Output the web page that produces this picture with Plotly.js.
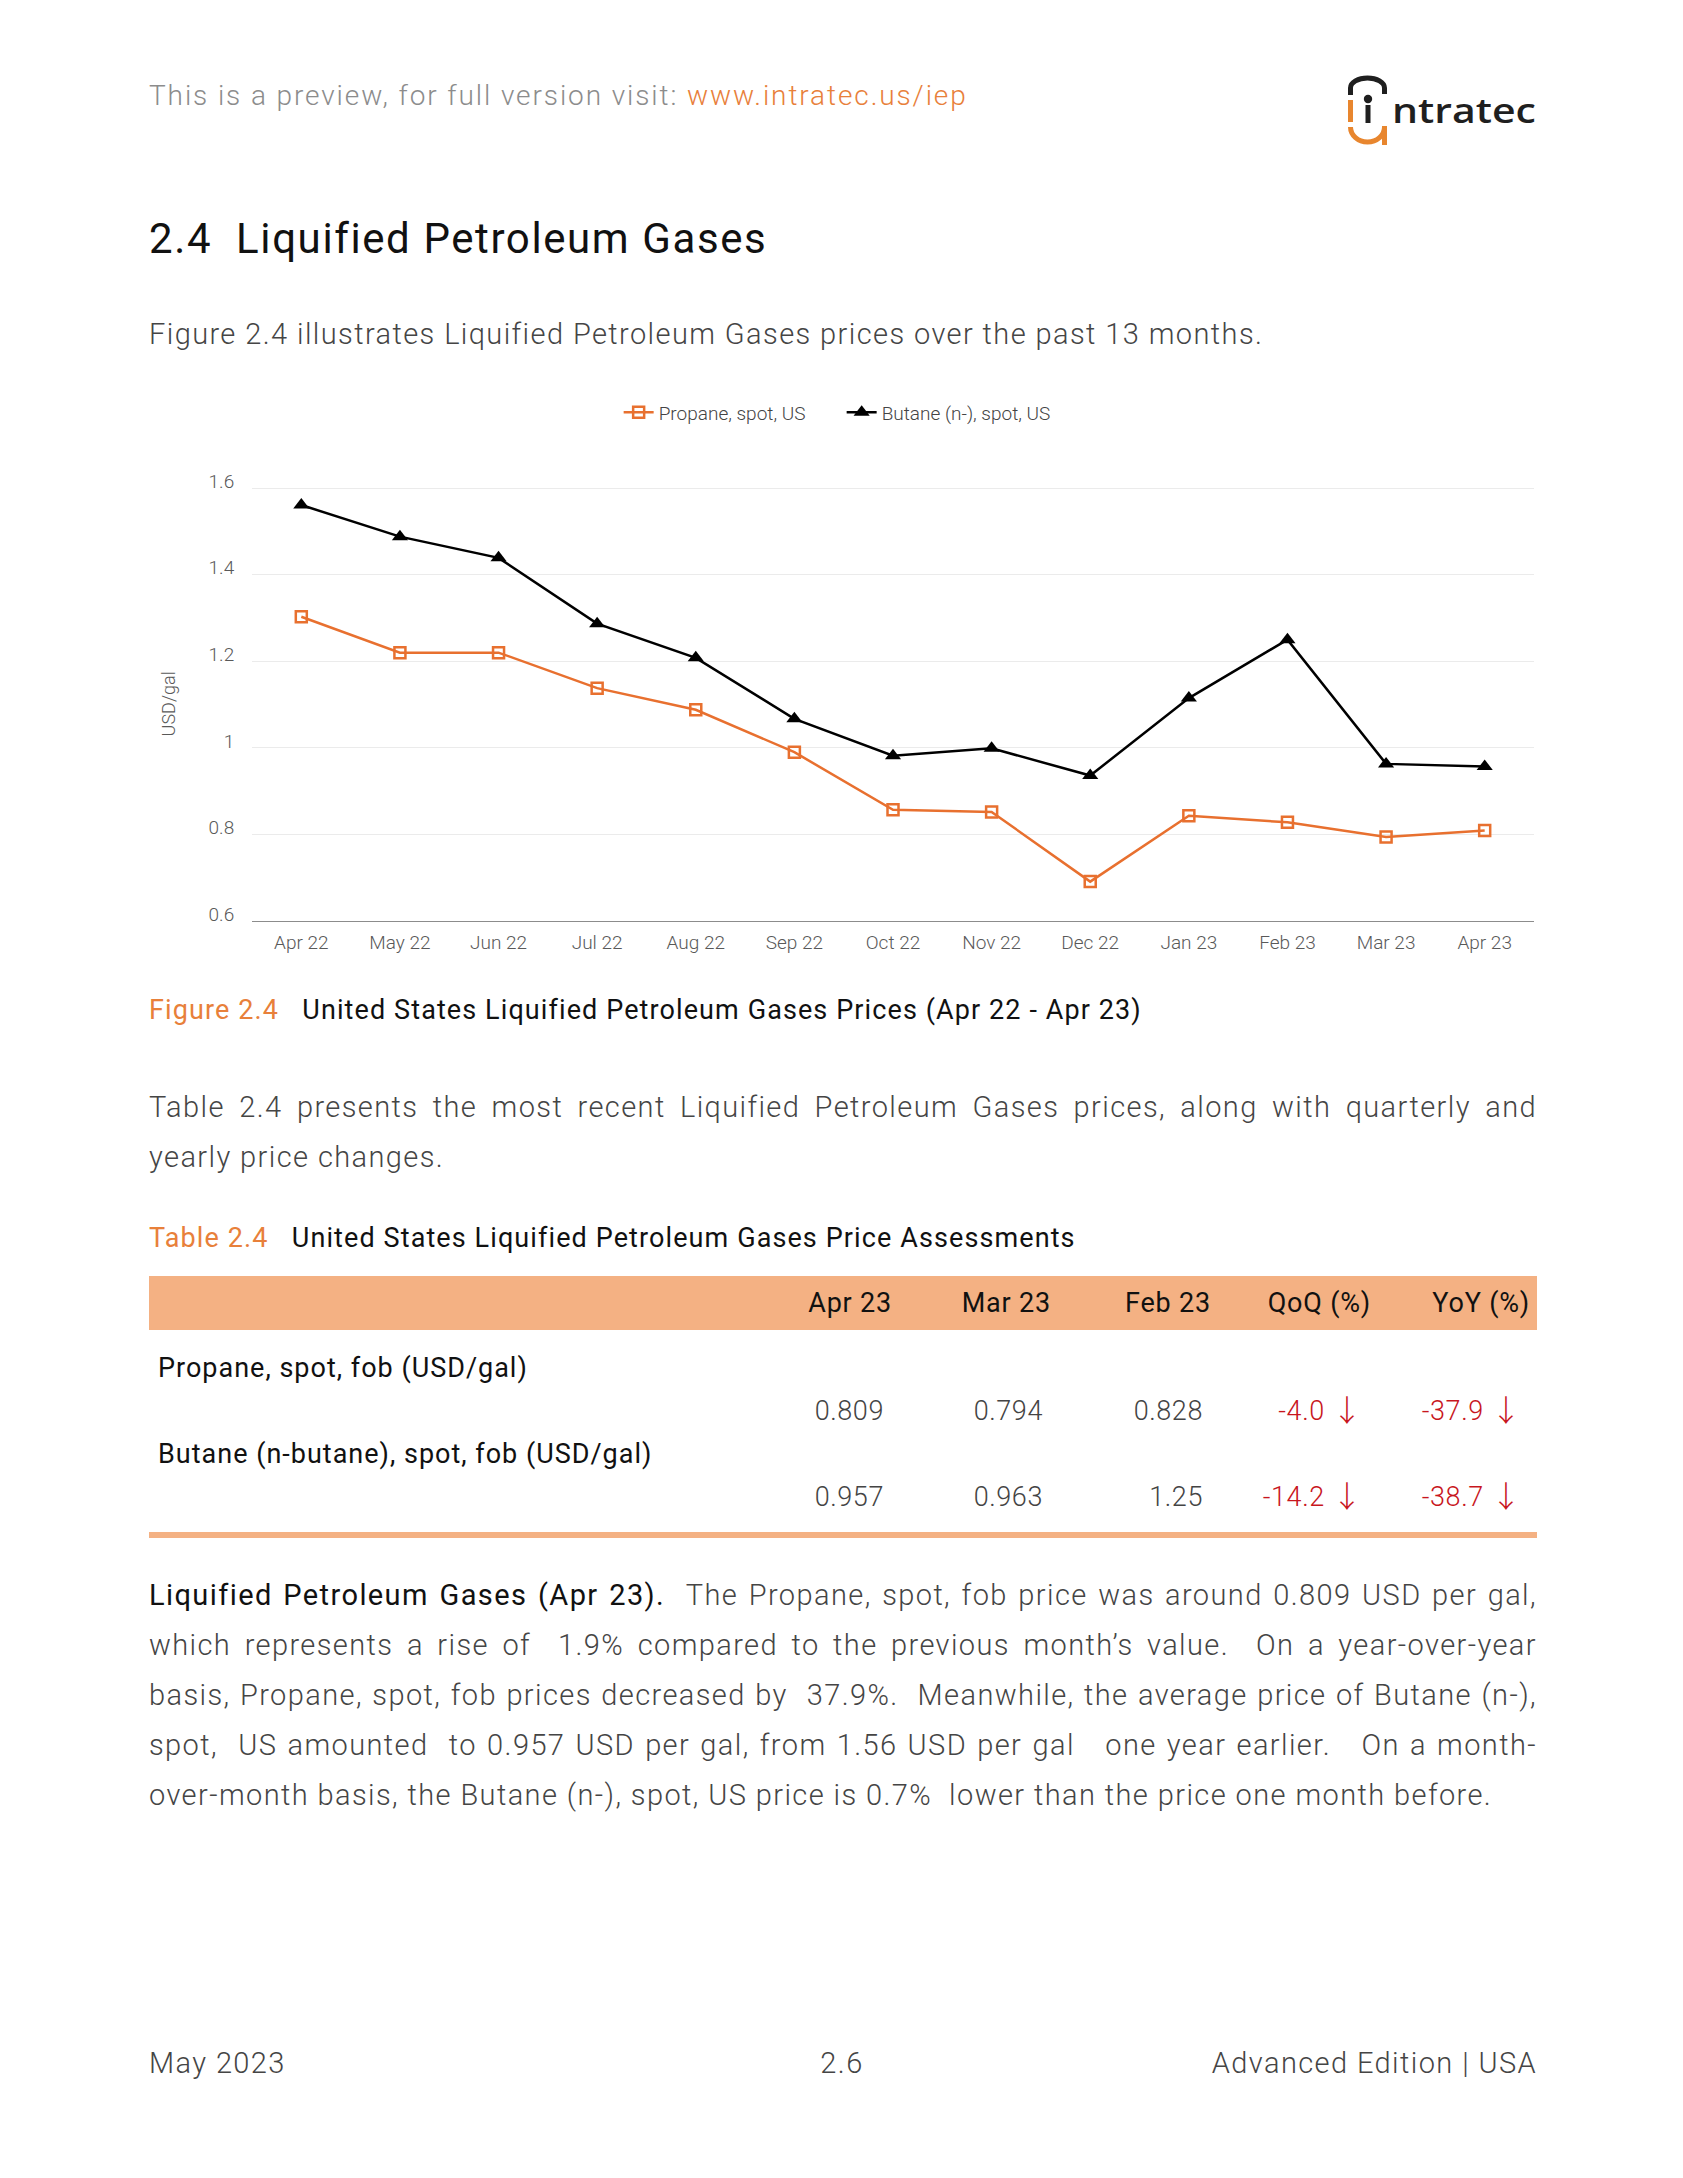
<!DOCTYPE html>
<html><head><meta charset="utf-8">
<script src="https://cdn.plot.ly/plotly-3.0.1.min.js"></script>
<style>
html,body{margin:0;padding:0;background:#fff;}
body{width:1683px;height:2178px;position:relative;font-family:Roboto,'Open Sans',sans-serif;overflow:hidden;}
.a{position:absolute;white-space:nowrap;}
.body{font-size:29px;font-weight:300;color:#454545;line-height:50px;letter-spacing:1.4px;}
.j{position:absolute;left:149px;width:1388px;text-align:justify;text-align-last:justify;white-space:nowrap;}
.cap{font-size:27px;line-height:40px;color:#111;font-weight:400;letter-spacing:1.1px;}
.or{color:#E8803A;}
.th{font-size:27px;line-height:40px;color:#111;font-weight:400;width:150px;text-align:right;letter-spacing:0.8px;}
.td{font-size:27px;line-height:40px;color:#444;font-weight:300;width:150px;text-align:right;letter-spacing:0.6px;}
.red{color:#C8161D;}
.arr{font-family:'Noto Sans CJK JP','DejaVu Sans',sans-serif;font-weight:300;font-size:30px;letter-spacing:0;line-height:0;display:inline-block;vertical-align:-1px;}
</style></head><body>

<div class="a" style="left:149px;top:76px;font-size:28px;line-height:40px;font-weight:300;color:#8c8c8c;letter-spacing:1.9px;">This is a preview, for full version visit: <span class="or">www.intratec.us/iep</span></div>

<svg class="a" style="left:1340px;top:70px;" width="200" height="80" viewBox="0 0 200 80">
  <path d="M10.5,25 L10.5,18 A17,10 0 0 1 44.5,18 L44.5,24" fill="none" stroke="#1f1f1f" stroke-width="5"/>
  <rect x="8" y="30" width="5" height="22" fill="#E8862E"/>
  <circle cx="28" cy="29" r="4.2" fill="#1f1f1f"/>
  <rect x="25.5" y="35" width="5" height="18" fill="#1f1f1f"/>
  <path d="M10.5,57 A17,15 0 0 0 44.5,57" fill="none" stroke="#E8862E" stroke-width="5"/>
  <path d="M44.5,56 L44.5,75" fill="none" stroke="#E8862E" stroke-width="5"/>
  <text x="52" y="53" font-family="'Open Sans', 'Noto Sans', sans-serif" font-weight="600" font-size="35" fill="#1f1f1f" textLength="144" lengthAdjust="spacingAndGlyphs">ntratec</text>
</svg>

<div class="a" style="left:149px;top:214px;font-size:42px;line-height:50px;font-weight:400;color:#111;letter-spacing:1.6px;">2.4&nbsp; Liquified Petroleum Gases</div>

<div class="a body" style="left:149px;top:309px;">Figure 2.4 illustrates Liquified Petroleum Gases prices over the past 13 months.</div>

<div id="chart" class="a" style="left:0;top:380px;width:1683px;height:590px;"></div>

<div class="a cap" style="left:149px;top:990px;"><span class="or">Figure 2.4</span>&nbsp;&nbsp; United States Liquified Petroleum Gases Prices (Apr 22 - Apr 23)</div>

<div class="j body" style="top:1082px;">Table 2.4 presents the most recent Liquified Petroleum Gases prices, along with quarterly and</div>
<div class="a body" style="left:149px;top:1132px;">yearly price changes.</div>

<div class="a cap" style="left:149px;top:1218px;"><span class="or">Table 2.4</span>&nbsp;&nbsp; United States Liquified Petroleum Gases Price Assessments</div>

<div class="a" style="left:149px;top:1276px;width:1388px;height:54px;background:#F4B183;"></div>
<div id="thead"></div>
<div id="tbody"></div>
<div class="a" style="left:149px;top:1532px;width:1388px;height:6px;background:#F4B183;"></div>

<div class="j body" style="top:1570px;"><span style="color:#111;font-weight:400;">Liquified Petroleum Gases (Apr 23).</span>&nbsp; The Propane, spot, fob price was around 0.809 USD per gal,</div>
<div class="j body" style="top:1620px;">which represents a rise of &nbsp;1.9% compared to the previous month’s value. &nbsp;On a year-over-year</div>
<div class="j body" style="top:1670px;">basis, Propane, spot, fob prices decreased by &nbsp;37.9%. &nbsp;Meanwhile, the average price of Butane (n-),</div>
<div class="j body" style="top:1720px;">spot, &nbsp;US amounted &nbsp;to 0.957 USD per gal, from 1.56 USD per gal &nbsp; one year earlier. &nbsp; On a month-</div>
<div class="a body" style="left:149px;top:1770px;">over-month basis, the Butane (n-), spot, US price is 0.7% &nbsp;lower than the price one month before.</div>

<div class="a body" style="left:149px;top:2038px;">May 2023</div>
<div class="a body" style="left:742px;top:2038px;width:200px;text-align:center;">2.6</div>
<div class="a body" style="left:1137px;top:2038px;width:400px;text-align:right;">Advanced Edition | USA</div>

<script>
// ---- data ----
var months = ["Apr 22","May 22","Jun 22","Jul 22","Aug 22","Sep 22","Oct 22","Nov 22","Dec 22","Jan 23","Feb 23","Mar 23","Apr 23"];
var propane = [1.303,1.22,1.22,1.138,1.088,0.99,0.857,0.852,0.691,0.843,0.828,0.794,0.809];
var butane  = [1.561,1.488,1.439,1.287,1.208,1.067,0.982,0.999,0.936,1.115,1.25,0.963,0.957];
var seriesNames = ["Propane, spot, US","Butane (n-), spot, US"];
var yTicks = [0.6,0.8,1,1.2,1.4,1.6];
var yTickText = ["0.6","0.8","1","1.2","1.4","1.6"];

var tableCols = ["Apr 23","Mar 23","Feb 23","QoQ (%)","YoY (%)"];
var tableRows = ["Propane, spot, fob (USD/gal)","Butane (n-butane), spot, fob (USD/gal)"];
var tableValues = [["0.809","0.794","0.828"],["0.957","0.963","1.25"]];
var tableChanges = [["-4.0","-37.9"],["-14.2","-38.7"]];

// ---- table ----
var headRight = [892,1051,1211,1371,1530];
var valRight = [884,1043,1203,1362,1521];
var h = "";
tableCols.forEach(function(c,i){
  h += '<div class="a th" style="left:'+(headRight[i]-150)+'px;top:1283px;">'+c+'</div>';
});
document.getElementById('thead').innerHTML = h;
var b = "";
var labelTops = [1348,1434], valTops = [1391,1477];
tableRows.forEach(function(r,ri){
  b += '<div class="a" style="left:158px;top:'+labelTops[ri]+'px;font-size:27px;line-height:40px;color:#111;letter-spacing:1px;">'+r+'</div>';
  tableValues[ri].forEach(function(v,ci){
    b += '<div class="a td" style="left:'+(valRight[ci]-150)+'px;top:'+valTops[ri]+'px;">'+v+'</div>';
  });
  tableChanges[ri].forEach(function(v,ci){
    b += '<div class="a td red" style="left:'+(valRight[3+ci]-150)+'px;top:'+valTops[ri]+'px;">'+v+' <span class="arr">↓</span></div>';
  });
});
document.getElementById('tbody').innerHTML = b;

// ---- chart ----
var orange = '#E8702F';
var traces = [
  {x: months, y: propane, name: seriesNames[0], type:'scatter', mode:'lines+markers',
   line:{color:orange,width:2.5},
   marker:{symbol:'square-open',size:11,color:orange,line:{width:2.5,color:orange}}},
  {x: months, y: butane, name: seriesNames[1], type:'scatter', mode:'lines+markers',
   line:{color:'#000',width:2.5},
   marker:{symbol:'triangle-up',size:14,color:'#000'}}
];
var layout = {
  width:1683, height:590,
  margin:{l:252,r:149,t:106.3,b:48.5},
  paper_bgcolor:'rgba(0,0,0,0)', plot_bgcolor:'rgba(0,0,0,0)',
  font:{family:'Roboto, sans-serif', size:19, color:'#595959', weight:300},
  showlegend:true,
  legend:{orientation:'h', x:0.286, xanchor:'left', y:1.169, yanchor:'middle',
    font:{size:19,color:'#444',weight:300}, itemwidth:30, tracegroupgap:0,
    entrywidth:178, entrywidthmode:'pixels'},
  xaxis:{type:'category', range:[-0.5,12.5], showgrid:false, zeroline:false,
    showline:true, linecolor:'#8c8c8c', linewidth:1.2,
    ticks:'outside', ticklen:4, tickcolor:'rgba(0,0,0,0)',
    tickfont:{size:19,color:'#595959',weight:300}},
  yaxis:{range:[0.6,1.605], tickvals:yTicks, ticktext:yTickText, showgrid:true,
    gridcolor:'#ebebeb', gridwidth:1, zeroline:false, showline:false,
    ticks:'outside', ticklen:13, tickcolor:'rgba(0,0,0,0)', ticklabelshift:-7,
    tickfont:{size:19,color:'#595959',weight:300}},
  annotations:[{text:'USD/gal', xref:'paper', yref:'paper', x:-0.0655, y:0.498,
    xanchor:'center', yanchor:'middle', textangle:-90, showarrow:false,
    font:{size:18,color:'#595959',weight:300}}]
};
Plotly.newPlot('chart', traces, layout, {displayModeBar:false, staticPlot:true});
</script>
</body></html>
